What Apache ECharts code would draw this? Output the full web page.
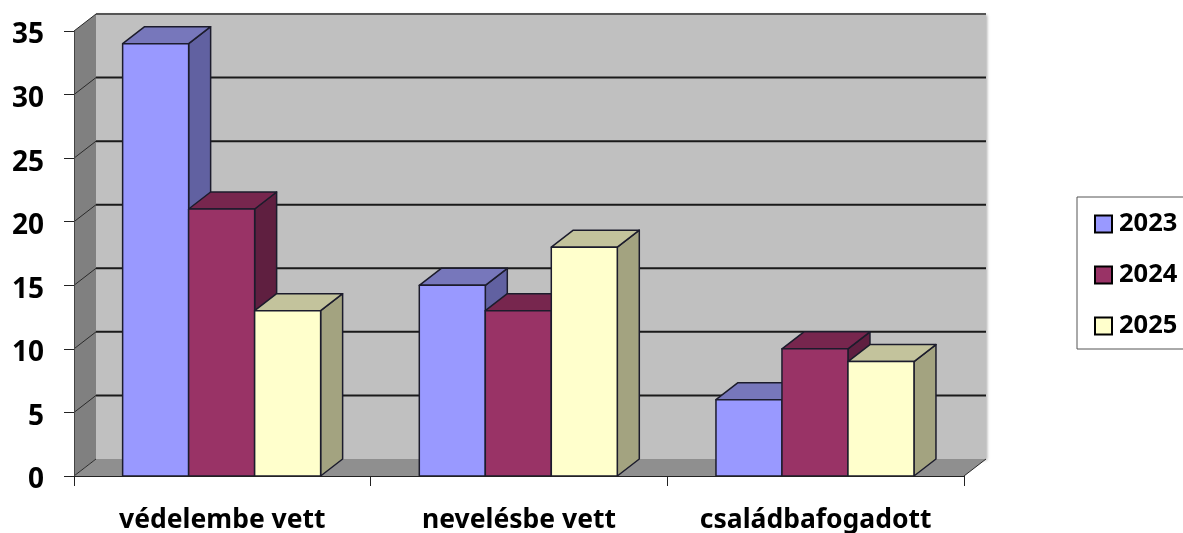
<!DOCTYPE html>
<html>
<head>
<meta charset="utf-8">
<title>3D bars</title>
<style>
  html, body { margin: 0; padding: 0; background: #fff; }
  #chart { width: 1183px; height: 533px; }
</style>
<script src="https://cdn.jsdelivr.net/npm/echarts@6/dist/echarts.min.js"></script>
</head>
<body>
<div id="chart"></div>
<script>
const categories = ['védelembe vett', 'nevelésbe vett', 'családbafogadott'];
const seriesNames = ['2023', '2024', '2025'];
const values2023 = [34, 15, 6];
const values2024 = [21, 13, 10];
const values2025 = [13, 18, 9];
const yTicks = [0, 5, 10, 15, 20, 25, 30, 35];

const depthX = 22;
const depthY = -17;
const barRatio = 66 / 296.67;
const fontFamily = '"Noto Sans", sans-serif';

const palette = [
  { front: '#9999ff', top: '#7777bb', side: '#6161a1' },
  { front: '#993366', top: '#77264e', side: '#5f1f40' },
  { front: '#ffffcc', top: '#c3c39c', side: '#a3a380' }
];

const chart = echarts.init(document.getElementById('chart'));

function renderWalls(params, api) {
  const box = params.coordSys;
  const left = box.x;
  const right = box.x + box.width;
  const bottom = api.coord([0, 0])[1];
  const top = api.coord([0, 35])[1];
  const children = [
    // back wall
    {
      type: 'polygon',
      shape: { points: [[left + depthX, top + depthY], [right + depthX, top + depthY], [right + depthX, bottom + depthY], [left + depthX, bottom + depthY]] },
      style: { fill: '#c0c0c0', shadowBlur: 3, shadowColor: 'rgba(0,0,0,0.35)', shadowOffsetX: 1, shadowOffsetY: 1 }
    },
    // side wall
    {
      type: 'polygon',
      shape: { points: [[left, top], [left + depthX, top + depthY], [left + depthX, bottom + depthY], [left, bottom]] },
      style: { fill: '#808080' }
    },
    // floor
    {
      type: 'polygon',
      shape: { points: [[left, bottom], [right, bottom], [right + depthX, bottom + depthY], [left + depthX, bottom + depthY]] },
      style: { fill: '#8f8f8f' }
    }
  ];
  yTicks.forEach(function (t) {
    const y = api.coord([0, t])[1];
    if (t > 0) {
      children.push({
        type: 'line',
        shape: { x1: left + depthX, y1: y + depthY, x2: right + depthX, y2: y + depthY },
        style: { stroke: t === 35 ? '#555' : '#1a1a1a', lineWidth: 2 }
      });
    }
    children.push({
      type: 'line',
      shape: { x1: left, y1: y, x2: left + depthX, y2: y + depthY },
      style: { stroke: '#2a2a2a', lineWidth: 1 }
    });
  });
  children.push({
    type: 'line',
    shape: { x1: right, y1: bottom, x2: right + depthX, y2: bottom + depthY },
    style: { stroke: '#2a2a2a', lineWidth: 1 }
  });
  return { type: 'group', children: children };
}

function renderBar(params, api) {
  const idx = params.seriesIndex - 1;
  const band = api.size([1, 0])[0];
  const w = band * barRatio;
  const c = api.coord([api.value(0), api.value(1)]);
  const y0 = api.coord([api.value(0), 0])[1];
  const x1 = c[0] + (idx - 1.5) * w - 0.7;
  const x2 = x1 + w;
  const y1 = c[1];
  const col = palette[idx];
  const edge = { stroke: '#1c1c2c', lineWidth: 1.5, lineJoin: 'round' };
  return {
    type: 'group',
    children: [
      {
        type: 'polygon',
        shape: { points: [[x2, y1], [x2 + depthX, y1 + depthY], [x2 + depthX, y0 + depthY], [x2, y0]] },
        style: Object.assign({ fill: col.side }, edge)
      },
      {
        type: 'polygon',
        shape: { points: [[x1, y1], [x2, y1], [x2 + depthX, y1 + depthY], [x1 + depthX, y1 + depthY]] },
        style: Object.assign({ fill: col.top }, edge)
      },
      {
        type: 'polygon',
        shape: { points: [[x1, y1], [x2, y1], [x2, y0], [x1, y0]] },
        style: Object.assign({ fill: col.front }, edge)
      }
    ]
  };
}

function barSeries(name, values, idx) {
  return {
    name: name,
    type: 'custom',
    coordinateSystem: 'cartesian2d',
    renderItem: renderBar,
    clip: false,
    z: 3,
    itemStyle: { color: palette[idx].front },
    encode: { x: 0, y: 1 },
    data: values.map(function (v, i) { return [i, v]; })
  };
}

chart.setOption({
  animation: false,
  backgroundColor: '#fff',
  textStyle: { fontFamily: fontFamily },
  grid: { left: 74, right: 219, top: 31, bottom: 57, outerBoundsMode: 'none' },
  legend: {
    data: seriesNames,
    orient: 'vertical',
    left: 1077,
    top: 197,
    padding: [14, 24, 10, 17],
    itemWidth: 17,
    itemHeight: 17,
    itemGap: 25,
    icon: 'rect',
    backgroundColor: '#fff',
    borderColor: '#555',
    borderWidth: 1,
    itemStyle: { borderColor: '#000', borderWidth: 2 },
    textStyle: { color: '#000', fontFamily: fontFamily, fontWeight: 'bold', fontSize: 25.5, padding: [0, 0, 0, 2] }
  },
  xAxis: {
    type: 'category',
    data: categories,
    z: 5,
    axisLine: { lineStyle: { color: '#222', width: 1 } },
    axisTick: { show: true, alignWithLabel: false, interval: 0, length: 10, lineStyle: { color: '#222' } },
    axisLabel: { color: '#000', fontFamily: fontFamily, fontWeight: 'bold', fontSize: 26.5, margin: 31, interval: 0 }
  },
  yAxis: {
    type: 'value',
    min: 0,
    max: 35,
    interval: 5,
    z: 5,
    axisLine: { show: true, lineStyle: { color: '#444', width: 1 } },
    axisTick: { show: true, length: 10, lineStyle: { color: '#222' } },
    splitLine: { show: false },
    axisLabel: { color: '#000', fontFamily: fontFamily, fontWeight: 'bold', fontSize: 28, margin: 30, verticalAlign: 'top', lineHeight: 9 }
  },
  series: [
    {
      type: 'custom',
      name: 'walls',
      coordinateSystem: 'cartesian2d',
      renderItem: renderWalls,
      clip: false,
      silent: true,
      z: 1,
      data: [[0, 0]]
    },
    barSeries(seriesNames[0], values2023, 0),
    barSeries(seriesNames[1], values2024, 1),
    barSeries(seriesNames[2], values2025, 2)
  ]
});
</script>
</body>
</html>
